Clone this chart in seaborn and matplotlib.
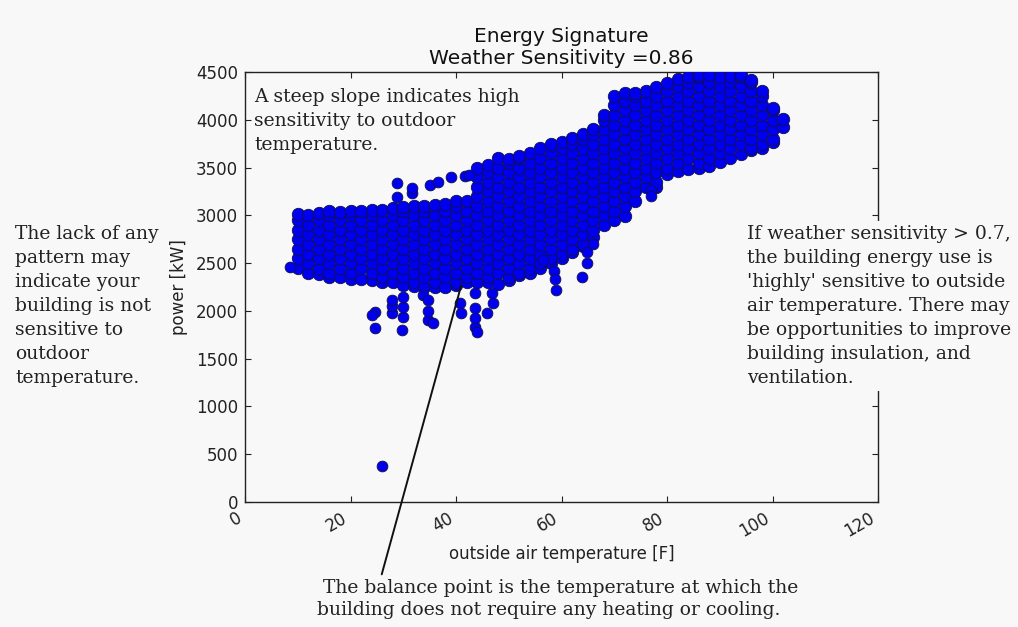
import numpy as np
import pandas as pd
import matplotlib
matplotlib.use("Agg")
import matplotlib.pyplot as plt
import seaborn as sns

# temperature columns [F] and the power readings [kW] seen in each column
cold_temps = [10, 12, 14, 16, 18, 20, 22, 24, 26, 28, 30, 32, 34, 36, 38, 40]
cold_power = [
    [2450, 2550, 2650, 2750, 2850, 2950, 3010],
    [2400, 2500, 2600, 2700, 2800, 2900, 3000],
    [2390, 2450, 2550, 2650, 2750, 2850, 2950, 3020],
    [2350, 2400, 2500, 2600, 2700, 2800, 2900, 3000, 3040],
    [2350, 2450, 2550, 2650, 2750, 2850, 2950, 3030],
    [2330, 2400, 2500, 2600, 2700, 2800, 2900, 3000, 3050],
    [2330, 2450, 2550, 2650, 2750, 2850, 2950, 3040],
    [2320, 2400, 2500, 2600, 2700, 2800, 2900, 3000, 3060],
    [2300, 2350, 2450, 2550, 2650, 2750, 2850, 2950, 3060],
    [2300, 2400, 2500, 2600, 2700, 2800, 2900, 3000, 3080],
    [2270, 2350, 2450, 2550, 2650, 2750, 2850, 2950, 3050, 3090],
    [2260, 2300, 2400, 2500, 2600, 2700, 2800, 2900, 3000, 3100],
    [2250, 2350, 2450, 2550, 2650, 2750, 2850, 2950, 3050, 3100],
    [2250, 2300, 2400, 2500, 2600, 2700, 2800, 2900, 3000, 3110],
    [2250, 2350, 2450, 2550, 2650, 2750, 2850, 2950, 3050, 3120],
    [2270, 2300, 2400, 2500, 2600, 2700, 2800, 2900, 3000, 3100, 3150],
]

mid_temps = [42, 44, 46, 48, 50, 52, 54, 56, 58, 60, 62, 64, 66]
mid_power = [
    [2300, 2350, 2450, 2550, 2650, 2750, 2850, 2950, 3050, 3150],
    [2300, 2400, 2500, 2600, 2700, 2800, 2900, 3000, 3100, 3200, 3300, 3400, 3490],
    [2300, 2350, 2450, 2550, 2650, 2750, 2850, 2950, 3050, 3150, 3250, 3350, 3450, 3530],
    [2280, 2400, 2500, 2600, 2700, 2800, 2900, 3000, 3100, 3200, 3300, 3400, 3500, 3600],
    [2320, 2350, 2450, 2550, 2650, 2750, 2850, 2950, 3050, 3150, 3250, 3350, 3450, 3550, 3590],
    [2380, 2400, 2500, 2600, 2700, 2800, 2900, 3000, 3100, 3200, 3300, 3400, 3500, 3600, 3620],
    [2400, 2450, 2550, 2650, 2750, 2850, 2950, 3050, 3150, 3250, 3350, 3450, 3550, 3650],
    [2450, 2500, 2600, 2700, 2800, 2900, 3000, 3100, 3200, 3300, 3400, 3500, 3600, 3700],
    [2500, 2550, 2650, 2750, 2850, 2950, 3050, 3150, 3250, 3350, 3450, 3550, 3650, 3750],
    [2550, 2600, 2700, 2800, 2900, 3000, 3100, 3200, 3300, 3400, 3500, 3600, 3700, 3770],
    [2620, 2650, 2750, 2850, 2950, 3050, 3150, 3250, 3350, 3450, 3550, 3650, 3750, 3810],
    [2680, 2700, 2800, 2900, 3000, 3100, 3200, 3300, 3400, 3500, 3600, 3700, 3800, 3850],
    [2770, 2850, 2950, 3050, 3150, 3250, 3350, 3450, 3550, 3650, 3750, 3850, 3900],
]

warm_temps = [68, 70, 72, 74, 76, 78, 80, 82, 84, 86, 88, 90, 92, 94, 96, 98, 100, 102]
warm_power = [
    [2900, 3000, 3100, 3200, 3300, 3400, 3500, 3600, 3700, 3800, 3900, 4000, 4050],
    [2950, 3050, 3150, 3250, 3350, 3450, 3550, 3650, 3750, 3850, 3950, 4050, 4150, 4250],
    [2990, 3100, 3200, 3300, 3400, 3500, 3600, 3700, 3800, 3900, 4000, 4100, 4200, 4280],
    [3150, 3250, 3350, 3450, 3550, 3650, 3750, 3850, 3950, 4050, 4150, 4250, 4280],
    [3300, 3400, 3500, 3600, 3700, 3800, 3900, 4000, 4100, 4200, 4300],
    [3300, 3350, 3450, 3550, 3650, 3750, 3850, 3950, 4050, 4150, 4250, 4340],
    [3430, 3500, 3600, 3700, 3800, 3900, 4000, 4100, 4200, 4300, 4380],
    [3460, 3550, 3650, 3750, 3850, 3950, 4050, 4150, 4250, 4350, 4430],
    [3480, 3600, 3700, 3800, 3900, 4000, 4100, 4200, 4300, 4400, 4450],
    [3500, 3550, 3650, 3750, 3850, 3950, 4050, 4150, 4250, 4350, 4450, 4470],
    [3520, 3600, 3700, 3800, 3900, 4000, 4100, 4200, 4300, 4400, 4470],
    [3560, 3650, 3750, 3850, 3950, 4050, 4150, 4250, 4350, 4450],
    [3600, 3700, 3800, 3900, 4000, 4100, 4200, 4300, 4400, 4460],
    [3640, 3750, 3850, 3950, 4050, 4150, 4250, 4350, 4450, 4470],
    [3680, 3700, 3800, 3900, 4000, 4100, 4200, 4300, 4400, 4420],
    [3700, 3750, 3850, 3950, 4050, 4150, 4250, 4300],
    [3770, 3800, 3900, 4000, 4100, 4120],
    [3920, 4010],
]

# scattered single readings outside the main cloud
outlier_temps = [8.5, 26, 24.6, 24.6, 24, 27.8, 27.8, 27.8, 30, 30, 30, 29.7,
                 33.7, 34.7, 34.7, 34.7, 35.6, 40.7, 41, 43.6, 43.6, 43.6, 43.6,
                 44, 45.8, 46.8, 47, 56.5, 58.5, 58.7, 59, 63.8, 64.8, 64.8, 66,
                 77, 77, 28.8, 28.8, 31.6, 31.6, 35, 36.5, 39, 41.7, 42.5]
outlier_power = [2460, 375, 1990, 1820, 1960, 1980, 2050, 2110, 1940, 2040, 2145, 1800,
                 2165, 1900, 2000, 2110, 1870, 2080, 1980, 1830, 1930, 2030, 2190,
                 1780, 1980, 2190, 2080, 2530, 2420, 2330, 2220, 2355, 2500, 2615, 2700,
                 3265, 3200, 3190, 3340, 3230, 3290, 3320, 3350, 3400, 3410, 3420]

rows = []
for temps, powers in [(cold_temps, cold_power), (mid_temps, mid_power), (warm_temps, warm_power)]:
    for t, col in zip(temps, powers):
        for p in col:
            rows.append((t, p))
cloud = pd.DataFrame(rows, columns=["temp", "power"])
singles = pd.DataFrame({"temp": outlier_temps, "power": outlier_power})

bg = "#f8f8f8"
sns.set_theme(style="ticks")
plt.rcParams["font.family"] = ["DejaVu Sans"]

fig = plt.figure(figsize=(10.18, 6.27), dpi=100, facecolor=bg)
ax = fig.add_axes([0.2407, 0.1994, 0.6218, 0.6858])
ax.set_facecolor(bg)

sns.scatterplot(data=cloud, x="temp", y="power", ax=ax, color="#0000ee",
                s=80, edgecolor="#10104a", linewidth=0.6, zorder=3)
sns.scatterplot(data=singles, x="temp", y="power", ax=ax, color="#0000ee",
                s=60, edgecolor="#10104a", linewidth=0.6, zorder=3)

ax.set_xlim(0, 120)
ax.set_ylim(0, 4500)
ax.set_xticks(np.arange(0, 121, 20))
ax.set_yticks(np.arange(0, 4501, 500))
ax.tick_params(direction="in", top=True, right=True, length=4, width=0.8,
               labelsize=12, colors="#222222", pad=5)
for lab in ax.get_xticklabels():
    lab.set_rotation(30)
    lab.set_ha("right")
for sp in ax.spines.values():
    sp.set_color("#222222")
    sp.set_linewidth(1.0)

ax.set_xlabel("outside air temperature [F]", fontsize=12, color="#222222", labelpad=3)
ax.set_ylabel("power [kW]", fontsize=12, color="#222222", labelpad=6)
ax.set_title("Energy Signature\nWeather Sensitivity =0.86", fontsize=14.5,
             color="#111111", pad=6)

serif = dict(family="DejaVu Serif", fontsize=13.5, color="#222222", linespacing=1.43)

fig.text(254 / 1018, 1 - 88 / 627,
         "A steep slope indicates high\nsensitivity to outdoor\ntemperature.",
         va="top", ha="left", **serif)
fig.text(15 / 1018, 1 - 225 / 627,
         "The lack of any\npattern may\nindicate your\nbuilding is not\n"
         "sensitive to\noutdoor\ntemperature.",
         va="top", ha="left", **serif)
fig.text(747 / 1018, 1 - 225 / 627,
         "If weather sensitivity > 0.7,\nthe building energy use is\n"
         "'highly' sensitive to outside\nair temperature. There may\n"
         "be opportunities to improve\nbuilding insulation, and\nventilation.",
         va="top", ha="left", zorder=5,
         bbox=dict(facecolor=bg, edgecolor="none", pad=3), **serif)
fig.text(317 / 1018, 1 - 579 / 627,
         " The balance point is the temperature at which the\n"
         "building does not require any heating or cooling.",
         va="top", ha="left", family="DejaVu Serif", fontsize=13.5,
         color="#222222", linespacing=1.28)

ax.annotate("", xy=(41.1, 2290), xytext=(381, 50), textcoords="figure pixels",
            arrowprops=dict(arrowstyle="-", color="#111111", lw=1.4),
            annotation_clip=False, zorder=4)

fig.savefig("out.png", dpi=100, facecolor=bg)
